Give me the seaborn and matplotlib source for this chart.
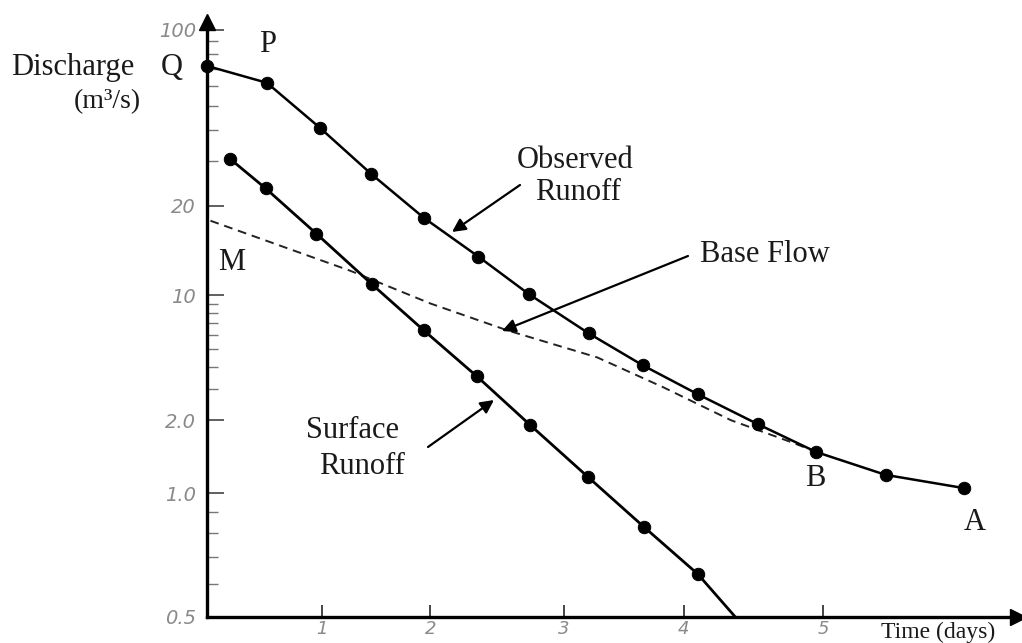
import numpy as np
import pandas as pd
import matplotlib
matplotlib.use("Agg")
import matplotlib.pyplot as plt
import seaborn as sns

# ---------------- data ----------------
obs_days = [0.00, 0.52, 0.98, 1.45, 1.94, 2.36, 2.74, 3.21, 3.66, 4.10, 4.53, 4.95, 5.45, 6.01]
obs_q = [71.9, 61.6, 40.8, 26.8, 18.2, 13.5, 10.1, 6.13, 4.06, 2.80, 1.93, 1.48, 1.19, 1.05]

surf_days = [0.20, 0.51, 0.95, 1.46, 1.94, 2.35, 2.75, 3.20, 3.67, 4.10, 4.37]
surf_q = [30.7, 23.4, 16.1, 10.9, 6.37, 3.52, 1.91, 1.17, 0.827, 0.636, 0.5]
surf_marked = [True] * 10 + [False]

base_days = [0.03, 1.26, 2.00, 2.58, 3.28, 3.83, 4.34, 4.79, 4.95]
base_q = [17.8, 12.1, 9.02, 6.37, 4.50, 3.06, 2.00, 1.61, 1.48]

y_tick_values = [0.5, 1.0, 2.0, 10, 20, 100]
y_tick_labels = ["0.5", "1.0", "2.0", "10", "20", "100"]
y_minor_values = [0.6, 0.7, 0.8, 0.9, 3, 4, 5, 6, 7, 8, 9, 30, 40, 50, 60, 70, 80, 90]
x_tick_values = [1, 2, 3, 4, 5]
x_tick_labels = ["1", "2", "3", "4", "5"]

# ---------------- hand-drawn axis spacing (scale definition) ----------------
Y_ANCHOR_LOG = np.log10([0.5, 1.0, 2.0, 10.0, 20.0, 100.0])
Y_ANCHOR_POS = np.array([0.0, 124.0, 197.0, 322.0, 412.0, 588.0])
X_ANCHOR_DAY = np.array([0.0, 1.0, 2.0, 3.0, 4.0, 5.0])
X_ANCHOR_POS = np.array([0.0, 115.0, 223.0, 356.0, 476.0, 615.0])


def _pw(v, a, b):
    v = np.asarray(v, float)
    out = np.interp(v, a, b)
    s_lo = (b[1] - b[0]) / (a[1] - a[0])
    s_hi = (b[-1] - b[-2]) / (a[-1] - a[-2])
    out = np.where(v < a[0], b[0] + (v - a[0]) * s_lo, out)
    out = np.where(v > a[-1], b[-1] + (v - a[-1]) * s_hi, out)
    return out


def y_fwd(v):
    v = np.clip(np.asarray(v, float), 1e-9, None)
    return _pw(np.log10(v), Y_ANCHOR_LOG, Y_ANCHOR_POS)


def y_inv(p):
    return 10 ** _pw(p, Y_ANCHOR_POS, Y_ANCHOR_LOG)


def x_fwd(v):
    return _pw(v, X_ANCHOR_DAY, X_ANCHOR_POS)


def x_inv(p):
    return _pw(p, X_ANCHOR_POS, X_ANCHOR_DAY)


# ---------------- figure ----------------
sns.set_style("white")
plt.rcParams["font.family"] = ["Liberation Serif", "DejaVu Serif"]

W, H = 1022, 643
fig = plt.figure(figsize=(W / 100, H / 100), dpi=100)
ax = fig.add_axes([207 / W, (H - 617) / H, (1018 - 207) / W, (617 - 22) / H])
ax.set_xscale("function", functions=(x_fwd, x_inv))
ax.set_yscale("function", functions=(y_fwd, y_inv))

obs = pd.DataFrame({"days": obs_days, "q": obs_q})
surf = pd.DataFrame({"days": surf_days, "q": surf_q, "marked": surf_marked})
base = pd.DataFrame({"days": base_days, "q": base_q})

sns.lineplot(data=base, x="days", y="q", ax=ax, color="#222222", lw=1.4,
             linestyle=(0, (4.5, 3)), sort=False)
sns.lineplot(data=obs, x="days", y="q", ax=ax, color="black", lw=1.8, sort=False)
sns.lineplot(data=surf, x="days", y="q", ax=ax, color="black", lw=2.0, sort=False)
sns.scatterplot(data=obs, x="days", y="q", ax=ax, color="black", s=80,
                edgecolor="black", zorder=5, clip_on=False)
sns.scatterplot(data=surf[surf["marked"]], x="days", y="q", ax=ax, color="black",
                s=80, edgecolor="black", zorder=5, clip_on=False)

ax.set_xlim(0, 6.40)
ax.set_ylim(0.5, 107.5)
ax.set_xlabel("")
ax.set_ylabel("")

for s in ("top", "right"):
    ax.spines[s].set_visible(False)
for s in ("left", "bottom"):
    ax.spines[s].set_linewidth(2.4)
    ax.spines[s].set_color("black")

ax.set_yticks(y_tick_values)
ax.set_yticklabels(y_tick_labels)
ax.set_yticks(y_minor_values, minor=True)
ax.set_xticks(x_tick_values)
ax.set_xticklabels(x_tick_labels)
ax.set_xticks([], minor=True)
ax.tick_params(axis="y", which="major", direction="in", length=12, width=1.2,
               color="#444444", labelsize=14, labelcolor="#8a8a8a", pad=8, left=True)
ax.tick_params(axis="y", which="minor", direction="in", length=8, width=1.0,
               color="#777777", left=True)
ax.tick_params(axis="x", which="major", direction="in", length=9, width=1.4,
               color="#444444", labelsize=13, labelcolor="#8a8a8a", pad=2, bottom=True)
for lab in ax.get_yticklabels() + ax.get_xticklabels():
    lab.set_fontstyle("italic")
    lab.set_family(["DejaVu Sans"])

# axis arrowheads
ax.plot(1, 0, marker=">", color="black", ms=11, transform=ax.transAxes, clip_on=False)
ax.plot(0, 1, marker="^", color="black", ms=11, transform=ax.transAxes, clip_on=False)


def P(x, y):
    return (x, H - y)


def txt(x, y, s, **kw):
    kw.setdefault("fontsize", 22)
    fig.text(x / W, 1 - y / H, s, ha="center", va="center", color="#1a1a1a", **kw)


txt(73, 68, "Discharge")
txt(172, 68, "Q")
txt(107, 102, "(m³/s)", fontsize=20)
txt(268, 45, "P")
txt(232, 262, "M")
txt(575, 160, "Observed")
txt(578, 193, "Runoff")
txt(765, 255, "Base Flow")
txt(352, 430, "Surface")
txt(362, 467, "Runoff")
txt(815, 478, "B")
txt(975, 523, "A")
txt(938, 632, "Time (days)", fontsize=17)

arrow = dict(arrowstyle="-|>", color="black", lw=1.6, mutation_scale=20,
             shrinkA=0, shrinkB=0)
ax.annotate("", xy=P(452, 232), xytext=P(520, 185), xycoords="figure pixels",
            textcoords="figure pixels", arrowprops=arrow)
ax.annotate("", xy=P(502, 331), xytext=P(688, 256), xycoords="figure pixels",
            textcoords="figure pixels", arrowprops=arrow)
ax.annotate("", xy=P(494, 400), xytext=P(428, 447), xycoords="figure pixels",
            textcoords="figure pixels", arrowprops=arrow)

fig.savefig("out.png", dpi=100, facecolor="white")
